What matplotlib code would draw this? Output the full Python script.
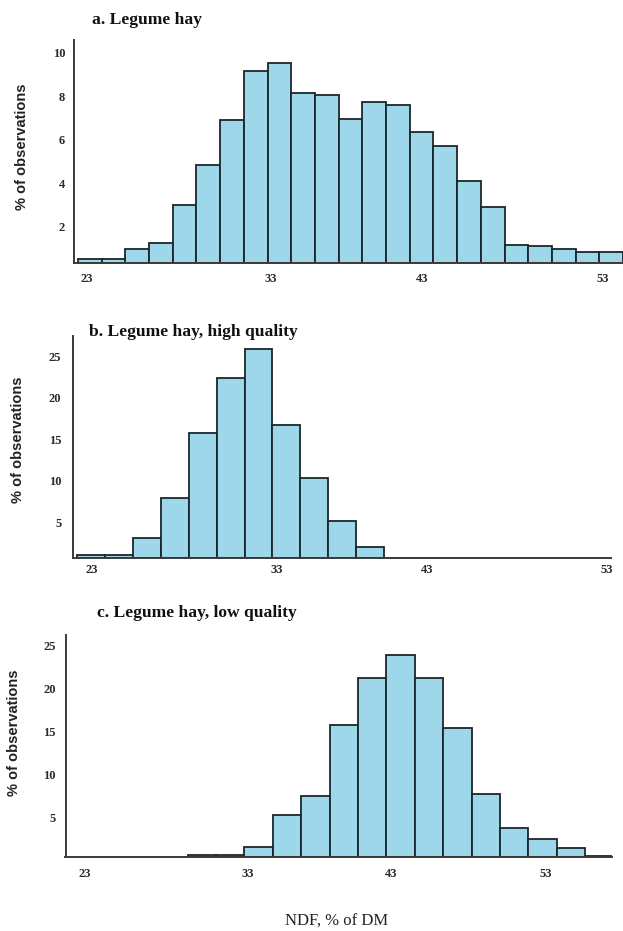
import numpy as np
import matplotlib
matplotlib.use("Agg")
import matplotlib.pyplot as plt
import matplotlib.transforms as mtransforms

# ---------------- data ----------------
tick_labels = ["23", "33", "43", "53"]

titles = ["a. Legume hay", "b. Legume hay, high quality", "c. Legume hay, low quality"]
ylabel = "% of observations"
xlabel = "NDF, % of DM"

# % of observations per NDF bin (bins ordered left to right)
legume_all = [0.18, 0.18, 0.64, 0.92, 2.68, 4.52, 6.56, 8.81, 9.20, 7.82, 7.74,
              6.64, 7.39, 7.25, 6.01, 5.39, 3.75, 2.57, 0.81, 0.77, 0.64, 0.51, 0.51]
legume_high = [0.36, 0.36, 2.45, 7.2, 15.1, 21.7, 25.2, 16.0, 9.7, 4.5, 1.3, 0.06, 0.06]
legume_low = [0.2, 0.2, 1.2, 4.9, 7.1, 15.4, 20.9, 23.6, 20.9, 15.0, 7.4, 3.4, 2.05, 1.1, 0.08]

a_yticks = [2, 4, 6, 8, 10]
bc_yticks = [5, 10, 15, 20, 25]

# ---------------- styling / layout ----------------
W, H = 623, 931
DPI = 100
BAR = "#9dd7e9"
EDGE = "#1a262b"
SPINE = "#3a3a3a"
SERIF = ["Liberation Serif", "DejaVu Serif"]
SANS = ["Liberation Sans", "DejaVu Sans"]

fig = plt.figure(figsize=(W / DPI, H / DPI), dpi=DPI)

def px_rect(left, right, top, base):
    return [left / W, 1 - base / H, (right - left) / W, (base - top) / H]

panels = [
    dict(vals=legume_all, rect=px_rect(73.5, 623, 40, 263), xlim=(-0.19, 23.0),
         ylim=(0, 10.25), yticks=a_yticks, xt=[0.38, 8.12, 14.51, 22.15],
         ydy=7.5, xpad=7.0, ypad=6.0, title_xy=(92, 20), ylab_xy=(22, 147)),
    dict(vals=legume_high, rect=px_rect(73, 611, 336, 558), xlim=(-0.16, 19.15),
         ylim=(0, 26.8), yticks=bc_yticks, xt=[0.52, 7.16, 12.54, 19.0],
         ydy=5.5, xpad=4.5, ypad=8.3, title_xy=(89, 332), ylab_xy=(18, 440)),
    dict(vals=legume_low, rect=px_rect(65.5, 611.5, 635, 857), xlim=(-4.30, 14.93),
         ylim=(0, 25.9), yticks=bc_yticks, xt=[-3.61, 2.13, 7.17, 12.62],
         ydy=3.0, xpad=8.0, ypad=7.2, title_xy=(97, 613), ylab_xy=(14, 733)),
]

for p, title in zip(panels, titles):
    ax = fig.add_axes(p["rect"])
    vals = p["vals"]
    x = np.arange(len(vals))
    ax.bar(x, vals, width=1.0, align="edge", color=BAR, edgecolor=EDGE,
           linewidth=1.3, zorder=2, clip_on=True)
    ax.set_xlim(*p["xlim"])
    ax.set_ylim(*p["ylim"])
    for s in ["top", "right"]:
        ax.spines[s].set_visible(False)
    for s in ["left", "bottom"]:
        ax.spines[s].set_color(SPINE)
        ax.spines[s].set_linewidth(1.4)
        ax.spines[s].set_zorder(3)
    ax.set_xticks(p["xt"])
    ax.set_xticklabels(tick_labels)
    ax.set_yticks(p["yticks"])
    ax.set_yticklabels([str(v) for v in p["yticks"]])
    ax.tick_params(axis="x", length=0, pad=p["xpad"])
    ax.tick_params(axis="y", length=0, pad=p["ypad"])
    for lab in ax.get_xticklabels() + ax.get_yticklabels():
        lab.set_fontfamily(SERIF)
        lab.set_fontweight("bold")
        lab.set_fontsize(9)
        lab.set_color("#2a2a2a")
    off = mtransforms.ScaledTranslation(0, -p["ydy"] / DPI, fig.dpi_scale_trans)
    for lab in ax.get_yticklabels():
        lab.set_transform(lab.get_transform() + off)

    tx, ty = p["title_xy"]
    fig.text(tx / W, 1 - ty / H, title, ha="left", va="center",
             fontsize=12.6, fontweight="bold", family=SERIF, color="#111111")
    lx, ly = p["ylab_xy"]
    fig.text(lx / W, 1 - ly / H, ylabel, ha="center", va="center", rotation=90,
             fontsize=10.5, fontweight="bold", family=SANS, color="#222222")

fig.text(337 / W, 1 - 922 / H, xlabel, ha="center", va="center",
         fontsize=12, family=SERIF, color="#222222")

fig.savefig("out.png", dpi=DPI)
